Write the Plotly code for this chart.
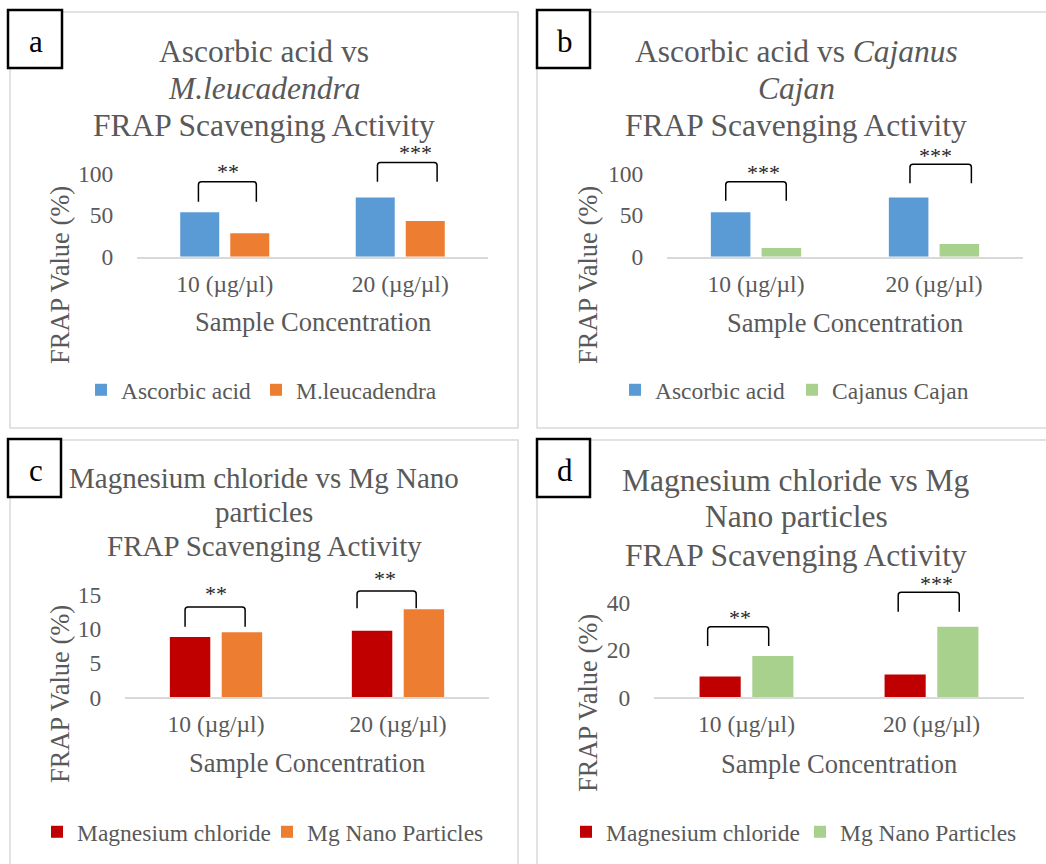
import plotly.graph_objects as go

# ---------------- data ----------------
categories = ["10 (µg/µl)", "20 (µg/µl)"]
ascorbic_acid = [53.2, 71.1]
m_leucadendra = [28.0, 42.8]
cajanus_cajan = [10.5, 15.2]
magnesium_chloride = [8.8, 9.7]
mg_nano_c = [9.5, 12.85]
mg_nano_d = [17.5, 30.0]

sig_a = ["**", "***"]
sig_b = ["***", "***"]
sig_c = ["**", "**"]
sig_d = ["**", "***"]

# bracket top / leg-end values (axis units)
bracket_top_a = [90, 113]
bracket_leg_a = [66, 90]
bracket_top_b = [90, 111]
bracket_leg_b = [67, 88]
bracket_top_c = [13.2, 15.5]
bracket_leg_c = [10.3, 13.0]
bracket_top_d = [30.0, 44.6]
bracket_leg_d = [21.8, 36.3]

# ---------------- styling ----------------
W, H = 1046, 864
FONT = "Liberation Serif, Times New Roman, serif"
GREY = "#595959"
BLUE, ORANGE, GREEN, RED = "#5B9BD5", "#ED7D31", "#A9D18E", "#C00000"


def fx(px):
    return px / W


def fy(py):
    return 1 - py / H


panels = [
    dict(letter="a", series=[("Ascorbic acid", ascorbic_acid, BLUE), ("M.leucadendra", m_leucadendra, ORANGE)],
         sig=sig_a, btop=bracket_top_a, bleg=bracket_leg_a,
         bx=[(-0.15, 0.18), (-0.13, 0.21)], sx=[0.02, 0.085], star_gap=10,
         x0=137, x1=488, zero=256.7, unit=0.834, top=132, ticks=[0, 50, 100],
         frame=(10, 12, 518, 428), box=(8, 10, 62, 68),
         title=["Ascorbic acid vs", "<i>M.leucadendra</i>", "FRAP Scavenging Activity"],
         title_y=[51, 88, 125], title_x=264, title_size=31.5,
         xt=(313, 322.5), yt=(60, 275), leg_y=390, leg_x=[117, 292]),
    dict(letter="b", series=[("Ascorbic acid", ascorbic_acid, BLUE), ("Cajanus Cajan", cajanus_cajan, GREEN)],
         sig=sig_b, btop=bracket_top_b, bleg=bracket_leg_b,
         bx=[(-0.17, 0.17), (-0.135, 0.21)], sx=[0.04, 0.01], star_gap=9,
         x0=667, x1=1023, zero=256.7, unit=0.834, top=132, ticks=[0, 50, 100],
         frame=(537, 12, 1050, 428), box=(537, 10, 590, 68),
         title=["Ascorbic acid vs <i>Cajanus</i>", "<i>Cajan</i>", "FRAP Scavenging Activity"],
         title_y=[51, 88, 125], title_x=796, title_size=31.5,
         xt=(845, 323), yt=(588, 275), leg_y=390, leg_x=[651, 828]),
    dict(letter="c", series=[("Magnesium chloride", magnesium_chloride, RED), ("Mg Nano Particles", mg_nano_c, ORANGE)],
         sig=sig_c, btop=bracket_top_c, bleg=bracket_leg_c,
         bx=[(-0.17, 0.16), (-0.225, 0.10)], sx=[0.0, -0.07], star_gap=13,
         x0=125, x1=489, zero=697.3, unit=6.85, top=560, ticks=[0, 5, 10, 15],
         frame=(10, 440, 518, 870), box=(8, 439, 61, 497),
         title=["Magnesium chloride vs Mg Nano", "particles", "FRAP Scavenging Activity"],
         title_y=[478, 512, 546], title_x=264, title_size=29,
         xt=(307, 762.5), yt=(60, 694), leg_y=832, leg_x=[73, 303]),
    dict(letter="d", series=[("Magnesium chloride", magnesium_chloride, RED), ("Mg Nano Particles", mg_nano_d, GREEN)],
         sig=sig_d, btop=bracket_top_d, bleg=bracket_leg_d,
         bx=[(-0.21, 0.12), (-0.18, 0.15)], sx=[-0.035, 0.025], star_gap=9,
         x0=654, x1=1024, zero=697.3, unit=2.355, top=560, ticks=[0, 20, 40],
         frame=(537, 440, 1050, 870), box=(537, 439, 590, 497),
         title=["Magnesium chloride vs Mg", "Nano particles", "FRAP Scavenging Activity"],
         title_y=[480, 516, 555], title_x=796, title_size=31.5,
         xt=(839, 764), yt=(588, 703), leg_y=832, leg_x=[602, 836]),
]

fig = go.Figure()
shapes, annotations = [], []
layout_extra = {}
leg_idx = 0

for i, p in enumerate(panels, start=1):
    sfx = "" if i == 1 else str(i)
    xa, ya = "x" + sfx, "y" + sfx
    for (name, vals, col), tx in zip(p["series"], p["leg_x"]):
        leg_idx += 1
        legname = "legend" if leg_idx == 1 else f"legend{leg_idx}"
        fig.add_trace(go.Bar(x=categories, y=vals, name=name, marker=dict(color=col, line=dict(width=0)),
                             xaxis=xa, yaxis=ya, legend=legname, showlegend=True, hoverinfo="skip"))
        layout_extra[legname] = dict(
            x=fx(tx + 4 - 40), y=fy(p["leg_y"]), xanchor="left", yanchor="middle", orientation="h",
            bgcolor="rgba(0,0,0,0)", borderwidth=0,
            font=dict(family=FONT, size=23.5, color=GREY))
    ymax = (p["zero"] - p["top"]) / p["unit"]
    layout_extra["xaxis" + sfx] = dict(
        domain=[fx(p["x0"]), fx(p["x1"])], anchor=ya, type="category",
        showline=True, linecolor="#D9D9D9", linewidth=1.5, showgrid=False, zeroline=False,
        ticks="outside", ticklen=5, tickcolor="rgba(0,0,0,0)", automargin=False,
        tickfont=dict(family=FONT, size=23.5, color=GREY), fixedrange=True)
    layout_extra["yaxis" + sfx] = dict(
        domain=[fy(p["zero"]), fy(p["top"])], anchor=xa, range=[0, ymax],
        tickvals=p["ticks"], showline=False, showgrid=False, zeroline=False,
        ticks="outside", ticklen=18, tickcolor="rgba(0,0,0,0)", automargin=False,
        tickfont=dict(family=FONT, size=23.5, color=GREY), fixedrange=True)

    # panel frame and letter box
    fx0, fy0, fx1, fy1 = p["frame"]
    shapes.append(dict(type="rect", xref="paper", yref="paper", x0=fx(fx0), x1=fx(fx1), y0=fy(fy0), y1=fy(fy1),
                       line=dict(color="#D9D9D9", width=1.5), layer="below"))
    bx0, by0, bx1, by1 = p["box"]
    shapes.append(dict(type="rect", xref="paper", yref="paper", x0=fx(bx0), x1=fx(bx1), y0=fy(by0), y1=fy(by1),
                       line=dict(color="black", width=2.5), fillcolor="white", layer="above"))
    annotations.append(dict(text=p["letter"], xref="paper", yref="paper", x=fx((bx0 + bx1) / 2 + 1),
                            y=fy((by0 + by1) / 2 + 2), showarrow=False, xanchor="center", yanchor="middle",
                            font=dict(family=FONT, size=31, color="black")))
    # title lines
    for t, ty in zip(p["title"], p["title_y"]):
        annotations.append(dict(text=t, xref="paper", yref="paper", x=fx(p["title_x"]), y=fy(ty),
                                showarrow=False, xanchor="center", yanchor="middle",
                                font=dict(family=FONT, size=p["title_size"], color=GREY)))
    # axis titles
    annotations.append(dict(text="Sample Concentration", xref="paper", yref="paper", x=fx(p["xt"][0]),
                            y=fy(p["xt"][1]), showarrow=False, xanchor="center", yanchor="middle",
                            font=dict(family=FONT, size=26.5, color=GREY)))
    annotations.append(dict(text="FRAP Value (%)", xref="paper", yref="paper", x=fx(p["yt"][0]),
                            y=fy(p["yt"][1]), showarrow=False, xanchor="center", yanchor="middle",
                            textangle=-90, font=dict(family=FONT, size=26.5, color=GREY)))
    # significance brackets
    ry = 3 / p["unit"]
    for k in range(len(categories)):
        (o0, o1) = p["bx"][k]
        xl, xr = k + o0, k + o1
        rx = 3 / ((p["x1"] - p["x0"]) / len(categories))
        yt_, yl_ = p["btop"][k], p["bleg"][k]
        path = (f"M{xl},{yl_} L{xl},{yt_ - ry} Q{xl},{yt_} {xl + rx},{yt_} "
                f"L{xr - rx},{yt_} Q{xr},{yt_} {xr},{yt_ - ry} L{xr},{yl_}")
        shapes.append(dict(type="path", xref=xa, yref=ya, path=path, line=dict(color="black", width=1.5)))
        annotations.append(dict(text=p["sig"][k], xref=xa, yref=ya, x=k + p["sx"][k], y=yt_,
                                yshift=p["star_gap"], showarrow=False, xanchor="center", yanchor="middle",
                                font=dict(family=FONT, size=22, color="#262626")))

fig.update_layout(
    width=W, height=H, margin=dict(l=0, r=0, t=0, b=0, autoexpand=False),
    paper_bgcolor="white", plot_bgcolor="rgba(0,0,0,0)", showlegend=True,
    barmode="group", bargap=0.43, bargroupgap=0.22,
    shapes=shapes, annotations=annotations, **layout_extra,
)

fig.write_html("out.html", config={"displayModeBar": False},
               post_script="document.body.style.margin='0';document.body.style.overflow='hidden';")
